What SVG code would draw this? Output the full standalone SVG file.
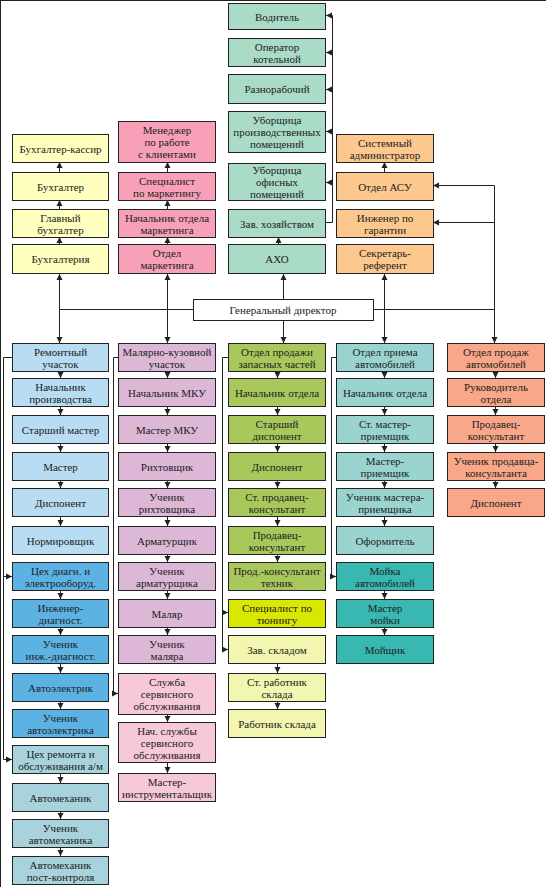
<svg xmlns="http://www.w3.org/2000/svg" width="546" height="887" viewBox="0 0 546 887">
<defs>
<marker id="ah" markerUnits="userSpaceOnUse" markerWidth="7" markerHeight="7" refX="6" refY="3.5" orient="auto"><path d="M0,0.5 L6,3.5 L0,6.5 z" fill="#222"/></marker>
<style>
rect{stroke:#222;stroke-width:1;shape-rendering:crispEdges}
text{font-family:"Liberation Serif",serif;font-size:11px;fill:#222;text-anchor:middle;dominant-baseline:central}
.c path{fill:none;stroke:#222;stroke-width:1;marker-end:url(#ah)}
.c path.n{marker-end:none}
.axo{fill:#aadbc6}.acc{fill:#ffffc0}.mkt{fill:#f8a0b8}.org{fill:#fcc88e}.gen{fill:#fff}
.b1{fill:#b8dcf2}.b2{fill:#5cb2e2}.b3{fill:#a8d2dc}
.p1{fill:#dcb8d6}.p2{fill:#f6c8d8}
.g1{fill:#a8c85c}.g2{fill:#d8e800}.g3{fill:#f2f6b0}
.t1{fill:#9ad4d0}.t2{fill:#38b8b0}
.s1{fill:#f8a888}
</style>
</defs>
<rect x="0" y="0" width="546" height="887" fill="#fff" stroke="none"/>

<g class="c" id="connectors">
<path d="M326 222.5 H332.5 V15.5 H326"/>
<path d="M332.5 52.5 H326"/>
<path d="M332.5 89.5 H326"/>
<path d="M332.5 131.5 H326"/>
<path d="M332.5 182.5 H326"/>
<path d="M278.5 244 V237"/>
<path d="M59.5 172 V162"/>
<path d="M59.5 209 V200"/>
<path d="M59.5 244 V237"/>
<path d="M167.5 172 V162"/>
<path d="M167.5 209 V200"/>
<path d="M167.5 244 V237"/>
<path d="M384.5 172 V162"/>
<path class="n" d="M59.5 309.5 H193"/>
<path class="n" d="M373 309.5 H494.5"/>
<path d="M59.5 309.5 V274"/>
<path d="M59.5 309.5 V343"/>
<path d="M167.5 309.5 V274"/>
<path d="M167.5 309.5 V343"/>
<path d="M283.5 299 V274"/>
<path d="M283.5 320 V343"/>
<path d="M384.5 309.5 V274"/>
<path d="M384.5 309.5 V343"/>
<path d="M494.5 309.5 V343"/>
<path d="M494.5 309.5 V185.5 H433"/>
<path d="M494.5 222.5 H433"/>
<path d="M12 357.5 H3.5 V759.5 H12"/>
<path d="M3.5 576.5 H12"/>
<path d="M118 357.5 H113.5 V693.5 H118"/>
<path d="M228 357.5 H222.5 V649.5 H228"/>
<path d="M222.5 612.5 H228"/>
<path d="M336 357.5 H331.5 V576.5 H336"/>
<path d="M60.5 371 V378"/>
<path d="M60.5 406 V415"/>
<path d="M60.5 443 V452"/>
<path d="M60.5 480 V488"/>
<path d="M60.5 516 V526"/>
<path d="M60.5 590 V599"/>
<path d="M60.5 627 V635"/>
<path d="M60.5 663 V673"/>
<path d="M60.5 701 V709"/>
<path d="M60.5 773 V783"/>
<path d="M60.5 811 V819"/>
<path d="M60.5 847 V856"/>
<path d="M167.5 371 V378"/>
<path d="M167.5 406 V415"/>
<path d="M167.5 443 V452"/>
<path d="M167.5 480 V488"/>
<path d="M167.5 516 V526"/>
<path d="M167.5 554 V562"/>
<path d="M167.5 590 V599"/>
<path d="M167.5 627 V635"/>
<path d="M167.5 714 V722"/>
<path d="M167.5 762 V773"/>
<path d="M277.5 371 V378"/>
<path d="M277.5 406 V415"/>
<path d="M277.5 443 V452"/>
<path d="M277.5 480 V488"/>
<path d="M277.5 516 V526"/>
<path d="M277.5 554 V562"/>
<path d="M277.5 663 V673"/>
<path d="M277.5 701 V709"/>
<path d="M384.5 371 V378"/>
<path d="M384.5 406 V415"/>
<path d="M384.5 443 V452"/>
<path d="M384.5 480 V488"/>
<path d="M384.5 516 V526"/>
<path d="M384.5 590 V599"/>
<path d="M384.5 627 V635"/>
<path d="M495.5 371 V378"/>
<path d="M495.5 406 V415"/>
<path d="M495.5 443 V452"/>
<path d="M495.5 480 V488"/>
</g>

<g id="n-voditel"><rect class="axo" x="228.5" y="3.5" width="97" height="26"/><text x="277" y="16.5">Водитель</text></g>
<g id="n-operator"><rect class="axo" x="228.5" y="38.5" width="97" height="28"/><text x="277" y="46.5">Оператор</text><text x="277" y="58.5">котельной</text></g>
<g id="n-raznorab"><rect class="axo" x="228.5" y="74.5" width="97" height="29"/><text x="277" y="89">Разнорабочий</text></g>
<g id="n-uborsh-pr"><rect class="axo" x="228.5" y="111.5" width="97" height="41"/><text x="277" y="120">Уборщица</text><text x="277" y="132">производственных</text><text x="277" y="144">помещений</text></g>
<g id="n-uborsh-of"><rect class="axo" x="228.5" y="163.5" width="97" height="37"/><text x="277" y="170">Уборщица</text><text x="277" y="182">офисных</text><text x="277" y="194">помещений</text></g>
<g id="n-zavhoz"><rect class="axo" x="228.5" y="209.5" width="97" height="28"/><text x="277" y="223.5">Зав. хозяйством</text></g>
<g id="n-axo"><rect class="axo" x="228.5" y="244.5" width="97" height="29"/><text x="277" y="259">АХО</text></g>

<g id="n-kassir"><rect class="acc" x="12.5" y="134.5" width="96" height="28"/><text x="60.5" y="148.5">Бухгалтер-кассир</text></g>
<g id="n-buh"><rect class="acc" x="12.5" y="172.5" width="96" height="28"/><text x="60.5" y="186.5">Бухгалтер</text></g>
<g id="n-glbuh"><rect class="acc" x="12.5" y="209.5" width="96" height="28"/><text x="60.5" y="217.5">Главный</text><text x="60.5" y="229.5">бухгалтер</text></g>
<g id="n-buhg"><rect class="acc" x="12.5" y="244.5" width="96" height="29"/><text x="60.5" y="259">Бухгалтерия</text></g>

<g id="n-manager"><rect class="mkt" x="118.5" y="121.5" width="97" height="41"/><text x="167" y="130">Менеджер</text><text x="167" y="142">по работе</text><text x="167" y="154">с клиентами</text></g>
<g id="n-spec-mkt"><rect class="mkt" x="118.5" y="172.5" width="97" height="28"/><text x="167" y="180.5">Специалист</text><text x="167" y="192.5">по маркетингу</text></g>
<g id="n-nach-mkt"><rect class="mkt" x="118.5" y="209.5" width="97" height="28"/><text x="167" y="217.5">Начальник отдела</text><text x="167" y="229.5">маркетинга</text></g>
<g id="n-otd-mkt"><rect class="mkt" x="118.5" y="244.5" width="97" height="29"/><text x="167" y="253">Отдел</text><text x="167" y="265">маркетинга</text></g>

<g id="n-sysadm"><rect class="org" x="336.5" y="134.5" width="97" height="28"/><text x="385" y="142.5">Системный</text><text x="385" y="154.5">администратор</text></g>
<g id="n-asu"><rect class="org" x="336.5" y="172.5" width="97" height="28"/><text x="385" y="186.5">Отдел АСУ</text></g>
<g id="n-inzh-gar"><rect class="org" x="336.5" y="209.5" width="97" height="28"/><text x="385" y="217.5">Инженер по</text><text x="385" y="229.5">гарантии</text></g>
<g id="n-sekr"><rect class="org" x="336.5" y="244.5" width="97" height="29"/><text x="385" y="253">Секретарь-</text><text x="385" y="265">референт</text></g>

<g id="n-gendir"><rect class="gen" x="193.5" y="299.5" width="180" height="21"/><text x="283" y="310">Генеральный директор</text></g>

<g id="n-remont"><rect class="b1" x="12.5" y="343.5" width="96" height="28"/><text x="60.5" y="351.5">Ремонтный</text><text x="60.5" y="363.5">участок</text></g>
<g id="n-nach-pr"><rect class="b1" x="12.5" y="378.5" width="96" height="28"/><text x="60.5" y="386.5">Начальник</text><text x="60.5" y="398.5">производства</text></g>
<g id="n-st-master"><rect class="b1" x="12.5" y="415.5" width="96" height="28"/><text x="60.5" y="429.5">Старший мастер</text></g>
<g id="n-master"><rect class="b1" x="12.5" y="452.5" width="96" height="28"/><text x="60.5" y="466.5">Мастер</text></g>
<g id="n-disp1"><rect class="b1" x="12.5" y="488.5" width="96" height="28"/><text x="60.5" y="502.5">Диспонент</text></g>
<g id="n-norm"><rect class="b1" x="12.5" y="526.5" width="96" height="28"/><text x="60.5" y="540.5">Нормировщик</text></g>
<g id="n-ceh-diag"><rect class="b2" x="12.5" y="562.5" width="96" height="28"/><text x="60.5" y="570.5">Цех диагн. и</text><text x="60.5" y="582.5">электрооборуд.</text></g>
<g id="n-inzh-diag"><rect class="b2" x="12.5" y="599.5" width="96" height="28"/><text x="60.5" y="607.5">Инженер-</text><text x="60.5" y="619.5">диагност.</text></g>
<g id="n-uch-inzh"><rect class="b2" x="12.5" y="635.5" width="96" height="28"/><text x="60.5" y="643.5">Ученик</text><text x="60.5" y="655.5">инж.-диагност.</text></g>
<g id="n-autoel"><rect class="b2" x="12.5" y="673.5" width="96" height="28"/><text x="60.5" y="687.5">Автоэлектрик</text></g>
<g id="n-uch-autoel"><rect class="b2" x="12.5" y="709.5" width="96" height="28"/><text x="60.5" y="717.5">Ученик</text><text x="60.5" y="729.5">автоэлектрика</text></g>
<g id="n-ceh-rem"><rect class="b3" x="12.5" y="745.5" width="96" height="28"/><text x="60.5" y="753.5">Цех ремонта и</text><text x="60.5" y="765.5">обслуживания а/м</text></g>
<g id="n-automech"><rect class="b3" x="12.5" y="783.5" width="96" height="28"/><text x="60.5" y="797.5">Автомеханик</text></g>
<g id="n-uch-automech"><rect class="b3" x="12.5" y="819.5" width="96" height="28"/><text x="60.5" y="827.5">Ученик</text><text x="60.5" y="839.5">автомеханика</text></g>
<g id="n-automech-post"><rect class="b3" x="12.5" y="856.5" width="96" height="28"/><text x="60.5" y="864.5">Автомеханик</text><text x="60.5" y="876.5">пост-контроля</text></g>

<g id="n-mku"><rect class="p1" x="118.5" y="343.5" width="97" height="28"/><text x="167" y="351.5">Малярно-кузовной</text><text x="167" y="363.5">участок</text></g>
<g id="n-nach-mku"><rect class="p1" x="118.5" y="378.5" width="97" height="28"/><text x="167" y="392.5">Начальник МКУ</text></g>
<g id="n-master-mku"><rect class="p1" x="118.5" y="415.5" width="97" height="28"/><text x="167" y="429.5">Мастер МКУ</text></g>
<g id="n-riht"><rect class="p1" x="118.5" y="452.5" width="97" height="28"/><text x="167" y="466.5">Рихтовщик</text></g>
<g id="n-uch-riht"><rect class="p1" x="118.5" y="488.5" width="97" height="28"/><text x="167" y="496.5">Ученик</text><text x="167" y="508.5">рихтовщика</text></g>
<g id="n-armat"><rect class="p1" x="118.5" y="526.5" width="97" height="28"/><text x="167" y="540.5">Арматурщик</text></g>
<g id="n-uch-armat"><rect class="p1" x="118.5" y="562.5" width="97" height="28"/><text x="167" y="570.5">Ученик</text><text x="167" y="582.5">арматурщика</text></g>
<g id="n-malyar"><rect class="p1" x="118.5" y="599.5" width="97" height="28"/><text x="167" y="613.5">Маляр</text></g>
<g id="n-uch-malyar"><rect class="p1" x="118.5" y="635.5" width="97" height="28"/><text x="167" y="643.5">Ученик</text><text x="167" y="655.5">маляра</text></g>
<g id="n-sluzhba"><rect class="p2" x="118.5" y="673.5" width="97" height="41"/><text x="167" y="682">Служба</text><text x="167" y="694">сервисного</text><text x="167" y="706">обслуживания</text></g>
<g id="n-nach-sl"><rect class="p2" x="118.5" y="722.5" width="97" height="40"/><text x="167" y="730.5">Нач. службы</text><text x="167" y="742.5">сервисного</text><text x="167" y="754.5">обслуживания</text></g>
<g id="n-instr"><rect class="p2" x="118.5" y="773.5" width="97" height="28"/><text x="167" y="781.5">Мастер-</text><text x="167" y="793.5">инструментальщик</text></g>

<g id="n-zap"><rect class="g1" x="228.5" y="343.5" width="97" height="28"/><text x="277" y="351.5">Отдел продажи</text><text x="277" y="363.5">запасных частей</text></g>
<g id="n-nach-zap"><rect class="g1" x="228.5" y="378.5" width="97" height="28"/><text x="277" y="392.5">Начальник отдела</text></g>
<g id="n-st-disp"><rect class="g1" x="228.5" y="415.5" width="97" height="28"/><text x="277" y="423.5">Старший</text><text x="277" y="435.5">диспонент</text></g>
<g id="n-disp3"><rect class="g1" x="228.5" y="452.5" width="97" height="28"/><text x="277" y="466.5">Диспонент</text></g>
<g id="n-st-prod"><rect class="g1" x="228.5" y="488.5" width="97" height="28"/><text x="277" y="496.5">Ст. продавец-</text><text x="277" y="508.5">консультант</text></g>
<g id="n-prod3"><rect class="g1" x="228.5" y="526.5" width="97" height="28"/><text x="277" y="534.5">Продавец-</text><text x="277" y="546.5">консультант</text></g>
<g id="n-prod-teh"><rect class="g1" x="228.5" y="562.5" width="97" height="28"/><text x="277" y="570.5">Прод.-консультант</text><text x="277" y="582.5">техник</text></g>
<g id="n-tuning"><rect class="g2" x="228.5" y="599.5" width="97" height="28"/><text x="277" y="607.5">Специалист по</text><text x="277" y="619.5">тюнингу</text></g>
<g id="n-zavsklad"><rect class="g3" x="228.5" y="635.5" width="97" height="28"/><text x="277" y="649.5">Зав. складом</text></g>
<g id="n-st-sklad"><rect class="g3" x="228.5" y="673.5" width="97" height="28"/><text x="277" y="681.5">Ст. работник</text><text x="277" y="693.5">склада</text></g>
<g id="n-sklad"><rect class="g3" x="228.5" y="709.5" width="97" height="28"/><text x="277" y="723.5">Работник склада</text></g>

<g id="n-priem"><rect class="t1" x="336.5" y="343.5" width="97" height="28"/><text x="385" y="351.5">Отдел приема</text><text x="385" y="363.5">автомобилей</text></g>
<g id="n-nach-priem"><rect class="t1" x="336.5" y="378.5" width="97" height="28"/><text x="385" y="392.5">Начальник отдела</text></g>
<g id="n-st-mpr"><rect class="t1" x="336.5" y="415.5" width="97" height="28"/><text x="385" y="423.5">Ст. мастер-</text><text x="385" y="435.5">приемщик</text></g>
<g id="n-mpr"><rect class="t1" x="336.5" y="452.5" width="97" height="28"/><text x="385" y="460.5">Мастер-</text><text x="385" y="472.5">приемщик</text></g>
<g id="n-uch-mpr"><rect class="t1" x="336.5" y="488.5" width="97" height="28"/><text x="385" y="496.5">Ученик мастера-</text><text x="385" y="508.5">приемщика</text></g>
<g id="n-oform"><rect class="t1" x="336.5" y="526.5" width="97" height="28"/><text x="385" y="540.5">Оформитель</text></g>
<g id="n-moyka"><rect class="t2" x="336.5" y="562.5" width="97" height="28"/><text x="385" y="570.5">Мойка</text><text x="385" y="582.5">автомобилей</text></g>
<g id="n-m-moyki"><rect class="t2" x="336.5" y="599.5" width="97" height="28"/><text x="385" y="607.5">Мастер</text><text x="385" y="619.5">мойки</text></g>
<g id="n-moysh"><rect class="t2" x="336.5" y="635.5" width="97" height="28"/><text x="385" y="649.5">Мойщик</text></g>

<g id="n-prodazh"><rect class="s1" x="447.5" y="343.5" width="97" height="28"/><text x="496" y="351.5">Отдел продаж</text><text x="496" y="363.5">автомобилей</text></g>
<g id="n-ruk"><rect class="s1" x="447.5" y="378.5" width="97" height="28"/><text x="496" y="386.5">Руководитель</text><text x="496" y="398.5">отдела</text></g>
<g id="n-prod5"><rect class="s1" x="447.5" y="415.5" width="97" height="28"/><text x="496" y="423.5">Продавец-</text><text x="496" y="435.5">консультант</text></g>
<g id="n-uch-prod"><rect class="s1" x="447.5" y="452.5" width="97" height="28"/><text x="496" y="460.5">Ученик продавца-</text><text x="496" y="472.5">консультанта</text></g>
<g id="n-disp5"><rect class="s1" x="447.5" y="488.5" width="97" height="28"/><text x="496" y="502.5">Диспонент</text></g>
</svg>
